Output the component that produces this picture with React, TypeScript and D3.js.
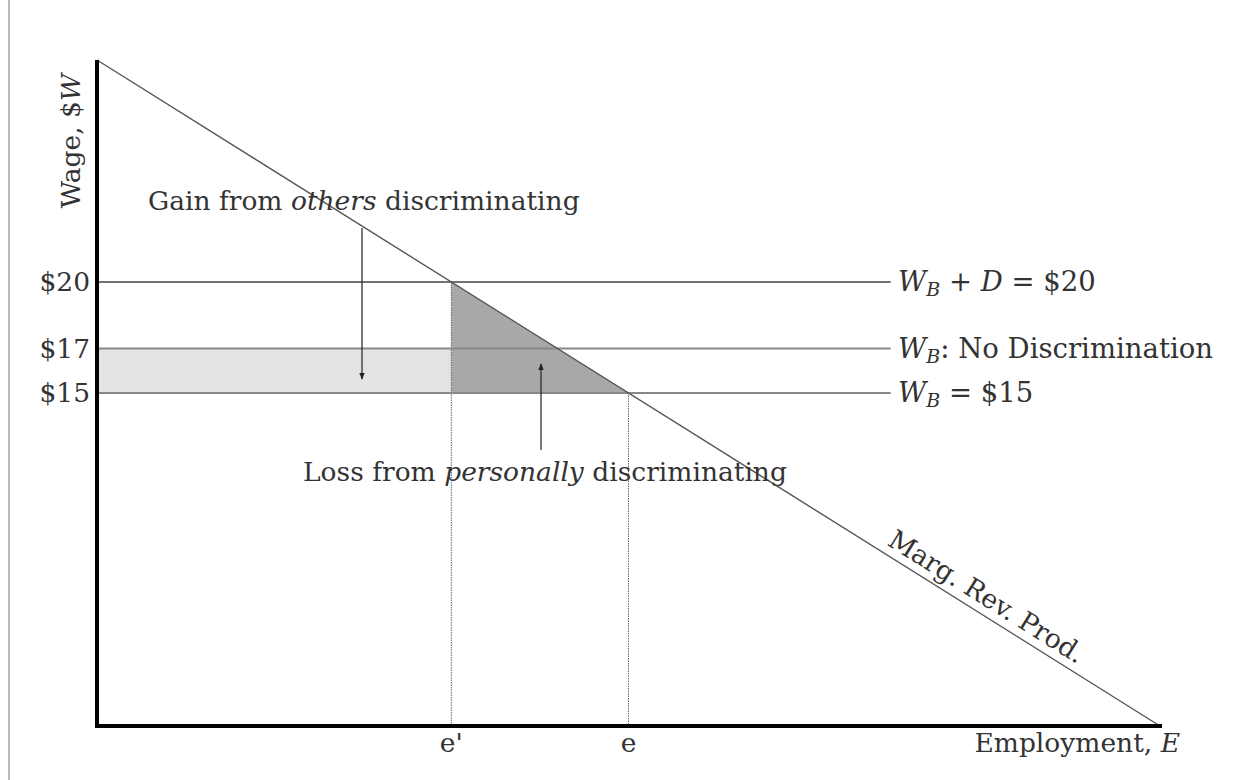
import React from "react";
import * as d3 from "d3";

// ---- data ----
const wageDomain = [0, 30];
const empDomain = [0, 30];
const mrpEmployment = [0, 30];
const mrpWage = [30, 0];
const wageLevels = [20, 17, 15];
const wageTickLabels = ["$20", "$17", "$15"];
const lineEndEmployment = 22.4;
const eValues = [10, 15];
const eLabels = ["e'", "e"];
const mrpLabelAt = 24.97;

const W = 1243;
const H = 780;
const FONT = "'DejaVu Serif', 'Liberation Serif', serif";

export default function App() {
  const x = d3.scaleLinear().domain(empDomain).range([97, 1160]);
  const y = d3.scaleLinear().domain(wageDomain).range([726, 60]);

  const mrpPts: [number, number][] = mrpEmployment.map((e, i) => [e, mrpWage[i]]);
  const line = d3
    .line<[number, number]>()
    .x((d) => x(d[0]))
    .y((d) => y(d[1]));

  const [w20, w17, w15] = wageLevels;
  const [ePrime, eStar] = eValues;

  const triangle: [number, number][] = [
    [ePrime, w20],
    [eStar, w15],
    [ePrime, w15],
  ];

  const fs = 26.5;
  const rfs = 27.5;
  const subFs = 19;
  const angle = (Math.atan2(y(0) - y(30), x(30) - x(0)) * 180) / Math.PI;
  const mrpAtLabel = 30 - mrpLabelAt;

  return (
    <svg
      width={W}
      height={H}
      style={{ position: "absolute", left: 0, top: 0, background: "#fff" }}
      fontFamily={FONT}
    >
      <defs>
        <marker
          id="arr"
          viewBox="0 0 10 10"
          refX="9"
          refY="5"
          markerWidth="7"
          markerHeight="7"
          orient="auto"
          markerUnits="userSpaceOnUse"
        >
          <path d="M0,1 L10,5 L0,9 Z" fill="#222" />
        </marker>
      </defs>
      <rect width={W} height={H} fill="#fff" />
      {/* left border */}
      <line x1={9} y1={0} x2={9} y2={H} stroke="#bbb" strokeWidth={2} />

      {/* light band */}
      <rect
        x={x(0)}
        y={y(w17)}
        width={x(ePrime) - x(0)}
        height={y(w15) - y(w17)}
        fill="#e3e3e3"
      />
      {/* dark triangle */}
      <path d={line(triangle)! + "Z"} fill="#a8a8a8" />

      {/* dotted verticals */}
      <line
        x1={x(ePrime)}
        x2={x(ePrime)}
        y1={y(w20)}
        y2={y(0)}
        stroke="#666"
        strokeWidth={1}
        strokeDasharray="1.5,1"
      />
      <line
        x1={x(eStar)}
        x2={x(eStar)}
        y1={y(w15)}
        y2={y(0)}
        stroke="#666"
        strokeWidth={1}
        strokeDasharray="1.5,1"
      />

      {/* wage lines */}
      {wageLevels.map((w, i) => (
        <line
          key={w}
          x1={x(0)}
          x2={x(lineEndEmployment)}
          y1={y(w)}
          y2={y(w)}
          stroke={i === 0 ? "#444" : "#888"}
          strokeWidth={i === 0 ? 1.3 : 2}
        />
      ))}

      {/* MRP */}
      <path d={line(mrpPts)!} fill="none" stroke="#555" strokeWidth={1.4} />

      {/* axes */}
      <line x1={x(0)} y1={y(30)} x2={x(0)} y2={y(0) + 2} stroke="#000" strokeWidth={4} />
      <line x1={x(0) - 2} y1={y(0)} x2={x(30) + 2} y2={y(0)} stroke="#000" strokeWidth={4} />

      {/* tick labels */}
      {wageLevels.map((w, i) => (
        <text key={w} x={90} y={y(w) + 9} textAnchor="end" fontSize={fs} fill="#333">
          {wageTickLabels[i]}
        </text>
      ))}

      {eValues.map((e, i) => (
        <text key={e} x={x(e)} y={752} textAnchor="middle" fontSize={fs} fill="#333">
          {eLabels[i]}
        </text>
      ))}

      {/* axis titles */}
      <text
        transform={`translate(80,141) rotate(-90)`}
        textAnchor="middle"
        fontSize={fs}
        fill="#333"
      >
        Wage, $<tspan fontStyle="italic">W</tspan>
      </text>
      <text x={1180} y={752} textAnchor="end" fontSize={fs} fill="#333">
        Employment, <tspan fontStyle="italic">E</tspan>
      </text>

      {/* wage line labels */}
      <text x={898} y={y(w20) + 9} fontSize={rfs} fill="#333">
        <tspan fontStyle="italic">W</tspan>
        <tspan fontStyle="italic" fontSize={subFs} dy={5}>B</tspan>
        <tspan dy={-5}> + </tspan>
        <tspan fontStyle="italic">D</tspan>
        <tspan> = $20</tspan>
      </text>
      <text x={898} y={y(w17) + 9} fontSize={rfs} fill="#333">
        <tspan fontStyle="italic">W</tspan>
        <tspan fontStyle="italic" fontSize={subFs} dy={5}>B</tspan>
        <tspan dy={-5}>: No Discrimination</tspan>
      </text>
      <text x={898} y={y(w15) + 9} fontSize={rfs} fill="#333">
        <tspan fontStyle="italic">W</tspan>
        <tspan fontStyle="italic" fontSize={subFs} dy={5}>B</tspan>
        <tspan dy={-5}> = $15</tspan>
      </text>

      {/* annotations */}
      <text x={148} y={210} fontSize={fs} fill="#333">
        Gain from <tspan fontStyle="italic">others</tspan> discriminating
      </text>
      <line x1={362} y1={228} x2={362} y2={379} stroke="#222" strokeWidth={1.2} markerEnd="url(#arr)" />

      <text x={303} y={481} fontSize={fs} fill="#333">
        Loss from <tspan fontStyle="italic">personally</tspan> discriminating
      </text>
      <line x1={541} y1={450} x2={541} y2={364} stroke="#222" strokeWidth={1.2} markerEnd="url(#arr)" />

      {/* MRP label */}
      <text
        transform={`translate(${x(mrpLabelAt)},${y(mrpAtLabel) - 10}) rotate(${angle})`}
        textAnchor="middle"
        fontSize={fs}
        fill="#333"
      >
        Marg. Rev. Prod.
      </text>
    </svg>
  );
}
